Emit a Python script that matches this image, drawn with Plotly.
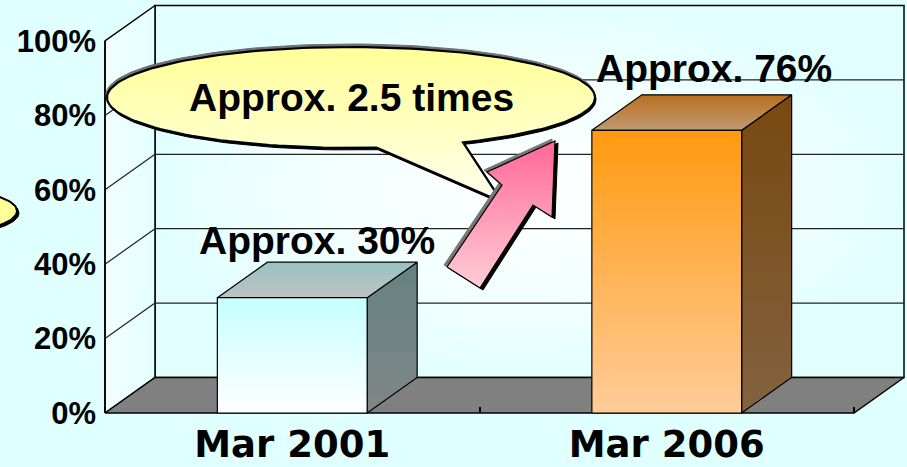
import numpy as np
import plotly.graph_objects as go

# ---------------- data ----------------
categories = ["Mar 2001", "Mar 2006"]
values = [31, 76]
value_labels = ["Approx. 30%", "Approx. 76%"]
y_tick_values = [0, 20, 40, 60, 80, 100]
y_tick_labels = ["0%", "20%", "40%", "60%", "80%", "100%"]
callout_text = "Approx. 2.5 times"

# ---------------- layout constants (pixels) ----------------
W, H = 907, 467
FRONT_LEFT_PX, FRONT_RIGHT_PX = 105, 854
ZERO_PX, FULL_PX = 413, 41
DEPTH_DX_PX, DEPTH_DY_PX = 50, 35.5
BAR_FRAC = 0.4
BG = "#E0FFFF"

n = len(categories)
ppx = (FRONT_RIGHT_PX - FRONT_LEFT_PX) / n
ppy = (ZERO_PX - FULL_PX) / 100.0
x_range = [-0.5 - FRONT_LEFT_PX / ppx, -0.5 + (W - FRONT_LEFT_PX) / ppx]
y_range = [-(H - ZERO_PX) / ppy, ZERO_PX / ppy]
DX = DEPTH_DX_PX / ppx
DY = DEPTH_DY_PX / ppy
XL, XR = -0.5, n - 0.5
YMAX = max(y_tick_values)


def px(xp, yp):
    return (-0.5 + (xp - FRONT_LEFT_PX) / ppx, (ZERO_PX - yp) / ppy)


def pts(seq):
    xs, ys = zip(*[px(a, b) for a, b in seq])
    return list(xs), list(ys)


fig = go.Figure()


def poly(xs, ys, fill=None, grad=None, gtype="vertical", lc="black", lw=1.2):
    xs = list(xs) + [xs[0]]
    ys = list(ys) + [ys[0]]
    kw = dict(x=xs, y=ys, mode="lines", fill="toself",
              line=dict(color=lc, width=lw), hoverinfo="skip", showlegend=False)
    if grad is not None:
        kw["fillgradient"] = dict(type=gtype, colorscale=grad)
    else:
        kw["fillcolor"] = fill
    fig.add_trace(go.Scatter(**kw))


def line(xs, ys, lc="black", lw=1.2):
    fig.add_trace(go.Scatter(x=xs, y=ys, mode="lines", line=dict(color=lc, width=lw),
                             hoverinfo="skip", showlegend=False))


# ---------------- walls & floor ----------------
poly([XL + DX, XR + DX, XR + DX, XL + DX], [DY, DY, YMAX + DY, YMAX + DY],
     grad=[[0, "#FFFFFF"], [0.6, "#F2FFFF"], [1, "#E2FFFF"]], gtype="radial", lw=1.5)
poly([XL, XL + DX, XL + DX, XL], [0, DY, YMAX + DY, YMAX],
     grad=[[0, "#F2FFFF"], [1, "#E4FFFF"]], gtype="horizontal", lw=1.5)
poly([XL, XR, XR + DX, XL + DX], [0, 0, DY, DY], fill="#808080", lw=1.5)

for v in y_tick_values[1:-1]:
    line([XL + DX, XR + DX], [v + DY, v + DY], lc="#222222", lw=1.2)
    line([XL, XL + DX], [v, v + DY], lc="#222222", lw=1.2)
line([XL, XL], [0, YMAX], lw=1.5)

# ---------------- bars ----------------
bar_styles = [
    dict(front=[[0, "#FFFFFF"], [1, "#C6FFFF"]],
         top=[[0, "#C0C2C2"], [1, "#97C2C2"]],
         side=[[0, "#808686"], [1, "#658282"]]),
    dict(front=[[0, "#FFCC99"], [1, "#FF9A10"]],
         top=[[0, "#C09A72"], [1, "#B8701E"]],
         side=[[0, "#82623F"], [1, "#784810"]]),
]
hw = BAR_FRAC / 2
for i, (v, st) in enumerate(zip(values, bar_styles)):
    l, r = i - hw, i + hw
    poly([r, r + DX, r + DX, r], [0, DY, v + DY, v], grad=st["side"])
    poly([l, r, r + DX, l + DX], [v, v, v + DY, v + DY], grad=st["top"])
    poly([l, r, r, l], [0, 0, v, v], grad=st["front"])

# ---------------- callout bubbles (decoration) ----------------
cx, cy, rx, ry = 351, 97.5, 244, 50.5
tail_a, tail_b, tail_tip = 377, 463, (502, 202)
ta = np.arccos((tail_a - cx) / rx)
tb = np.arccos((tail_b - cx) / rx) + 2 * np.pi
th = np.linspace(ta, tb, 160)
bubble = [(cx + rx * np.cos(t), cy + ry * np.sin(t)) for t in th] + [tail_tip]

bx, by = pts([(a - 1, b - 3) for a, b in bubble])
poly(bx, by, fill="#6E6E6E", lc="#6E6E6E", lw=1)
bx, by = pts([(a + 1, b + 2) for a, b in bubble])
poly(bx, by, fill="#000000", lc="#000000", lw=1)
bx, by = pts(bubble)
poly(bx, by, grad=[[0, "#FFFFF2"], [0.45, "#FFFFC4"], [1, "#FFFF99"]], lw=2.2)

lcx, lcy, lrx, lry = -50, 211, 67, 21
th2 = np.linspace(0, 2 * np.pi, 100)
small = [(lcx + lrx * np.cos(t), lcy + lry * np.sin(t)) for t in th2]
sx, sy = pts([(a + 2, b + 2) for a, b in small])
poly(sx, sy, fill="#000000", lc="#000000", lw=1)
sx, sy = pts(small)
poly(sx, sy, fill="#FFFF99", lw=2)

# ---------------- arrow (decoration) ----------------
arrow = [(447, 267), (502, 185), (487, 172), (555, 141), (552, 217), (533, 205), (480, 288)]
ax_, ay_ = pts([(a - 3, b - 2) for a, b in arrow])
poly(ax_, ay_, fill="#777777", lc="#777777", lw=1)
ax_, ay_ = pts([(a + 3, b + 2) for a, b in arrow])
poly(ax_, ay_, fill="#000000", lc="#000000", lw=1)
ax_, ay_ = pts(arrow)
poly(ax_, ay_, grad=[[0, "#FFCDD6"], [1, "#FF6898"]], lw=1.2)

# ---------------- text ----------------
label_font = dict(family="Liberation Sans, Arial, sans-serif", size=39, color="black", weight="bold")
label_dx = [0.0, 0.06]
label_dy = [15.5, 16.5]
for i, (v, t) in enumerate(zip(values, value_labels)):
    fig.add_annotation(x=i + DX / 2 + label_dx[i], y=v + label_dy[i], text=t, showarrow=False,
                       font=label_font, xanchor="center", yanchor="middle")
ccx, ccy = px(cx, cy)
fig.add_annotation(x=ccx, y=ccy, text=callout_text, showarrow=False, font=label_font,
                   xanchor="center", yanchor="middle")

fig.update_layout(
    width=W, height=H, autosize=False,
    margin=dict(l=0, r=0, t=0, b=0, pad=0, autoexpand=False),
    paper_bgcolor=BG,
    plot_bgcolor="rgba(0,0,0,0)",
    showlegend=False,
    xaxis=dict(range=x_range, domain=[0, 1], anchor="free", position=(H - ZERO_PX) / H,
               automargin=False,
               tickmode="array", tickvals=list(range(n)), ticktext=categories,
               tickfont=dict(family="DejaVu Sans, sans-serif", size=37, color="black", weight="bold"),
               showgrid=False, zeroline=False, showline=False, ticks="",
               ticklabelstandoff=6,
               minor=dict(tickmode="array", tickvals=[k - 0.5 for k in range(n + 1)],
                          ticks="inside", ticklen=6, tickwidth=1.5, tickcolor="black",
                          showgrid=False),
               fixedrange=True),
    yaxis=dict(range=y_range, domain=[0, 1], anchor="free", position=FRONT_LEFT_PX / W,
               automargin=False,
               tickmode="array", tickvals=y_tick_values, ticktext=y_tick_labels,
               tickfont=dict(family="Liberation Sans, Arial", size=31,
                             color="black", weight="bold"),
               showgrid=False, zeroline=False, showline=False, ticks="",
               ticklabelstandoff=9, fixedrange=True),
)

fig.write_html(
    "out.html",
    config={"displayModeBar": False, "responsive": False},
    post_script="document.body.style.margin='0';document.body.style.background='" + BG + "';",
)
